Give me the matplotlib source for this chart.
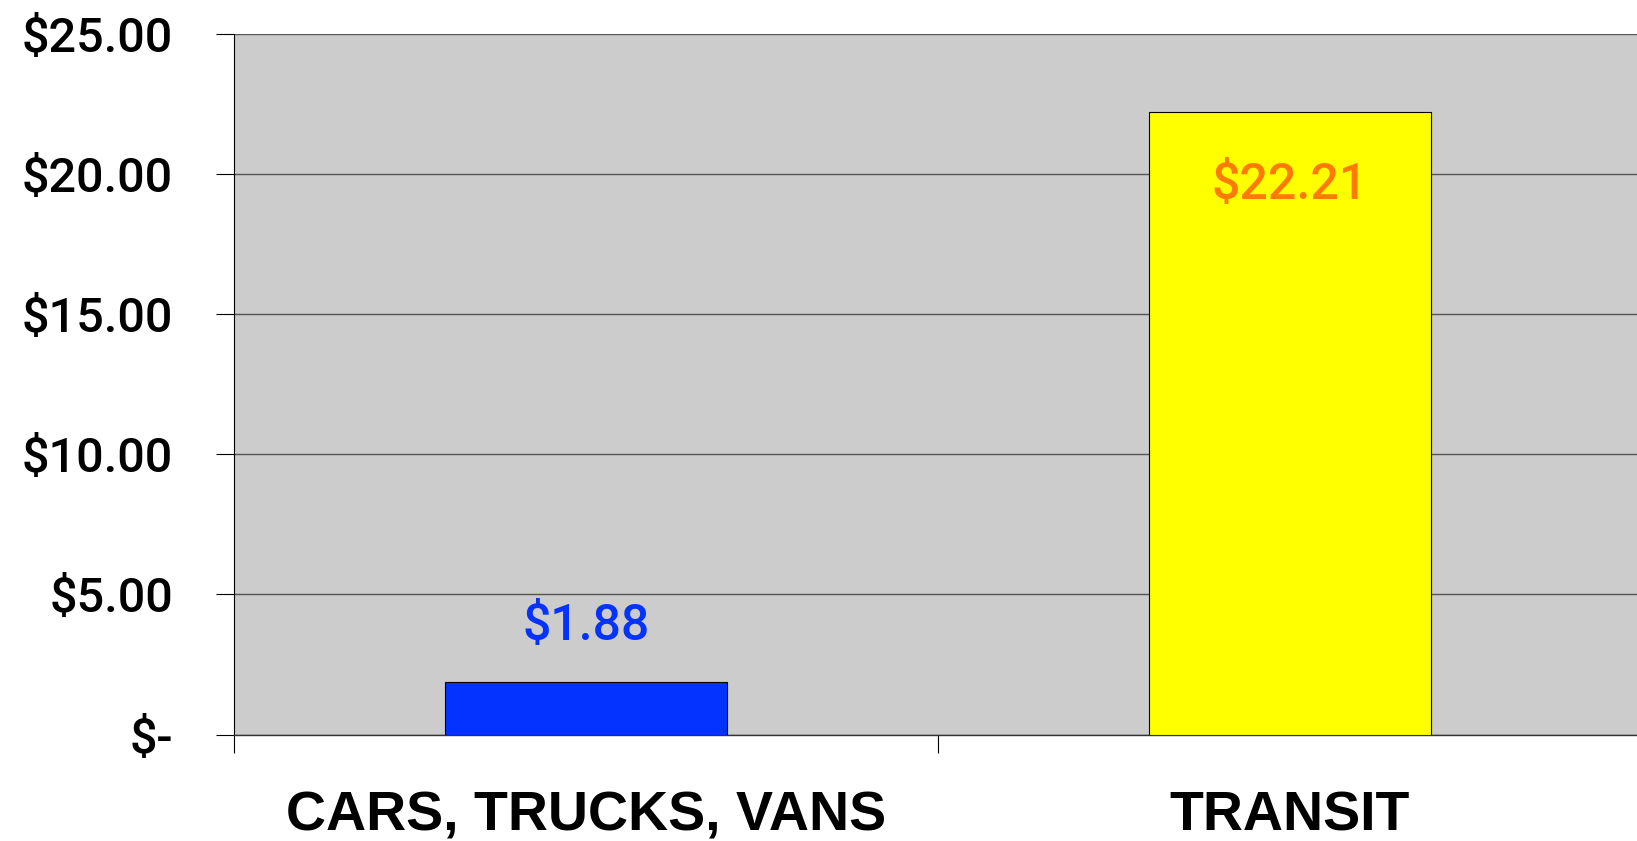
import matplotlib
matplotlib.use("Agg")
import matplotlib.pyplot as plt
from matplotlib.ticker import FixedLocator

categories = ["CARS, TRUCKS, VANS", "TRANSIT"]
values = [1.88, 22.21]
value_labels = ["$1.88", "$22.21"]
bar_colors = ["#0433FF", "#FFFF00"]
label_colors = ["#0433FF", "#FF7B00"]
y_ticks = [0, 5, 10, 15, 20, 25]
y_tick_labels = ["$-", "$5.00", "$10.00", "$15.00", "$20.00", "$25.00"]

fig = plt.figure(figsize=(16.37, 8.41), dpi=100)
ax = fig.add_axes([0.143, 0.1266, 0.860, 0.8326])
ax.set_facecolor("#CCCCCC")

x = list(range(len(categories)))
ax.bar(x, values, width=0.4, color=bar_colors, edgecolor="black", linewidth=0.8, zorder=3)

ax.set_xlim(-0.5, 1.5)
ax.set_ylim(0, 25)

ax.set_yticks(y_ticks)
ax.set_yticklabels(y_tick_labels, family="Roboto", fontsize=35, fontweight="medium")
ax.yaxis.grid(True, color="#555555", linewidth=1.0, zorder=1)
ax.tick_params(axis="y", length=13, width=0.8, color="black", pad=31)

ax.set_xticks(x)
ax.set_xticklabels(categories, family="Liberation Sans", fontsize=40, fontweight="bold")
ax.xaxis.set_minor_locator(FixedLocator([-0.5, 0.5, 1.5]))
ax.tick_params(axis="x", which="major", length=0, pad=40)
ax.tick_params(axis="x", which="minor", length=13, width=0.8, color="black")

for s in ["top", "right"]:
    ax.spines[s].set_visible(False)
ax.spines["left"].set_color("black")
ax.spines["left"].set_linewidth(0.8)
ax.spines["bottom"].set_color("#333333")
ax.spines["bottom"].set_linewidth(1.0)

# data labels: above the short bar, inside the tall one
offsets = [40, -52]
for xi, v, lab, c, off in zip(x, values, value_labels, label_colors, offsets):
    ax.annotate(lab, (xi, v), xytext=(0, off), textcoords="offset points",
                ha="center", va="center", color=c, family="Roboto",
                fontsize=36, fontweight="medium", zorder=4)

fig.savefig("out.png", dpi=100)
